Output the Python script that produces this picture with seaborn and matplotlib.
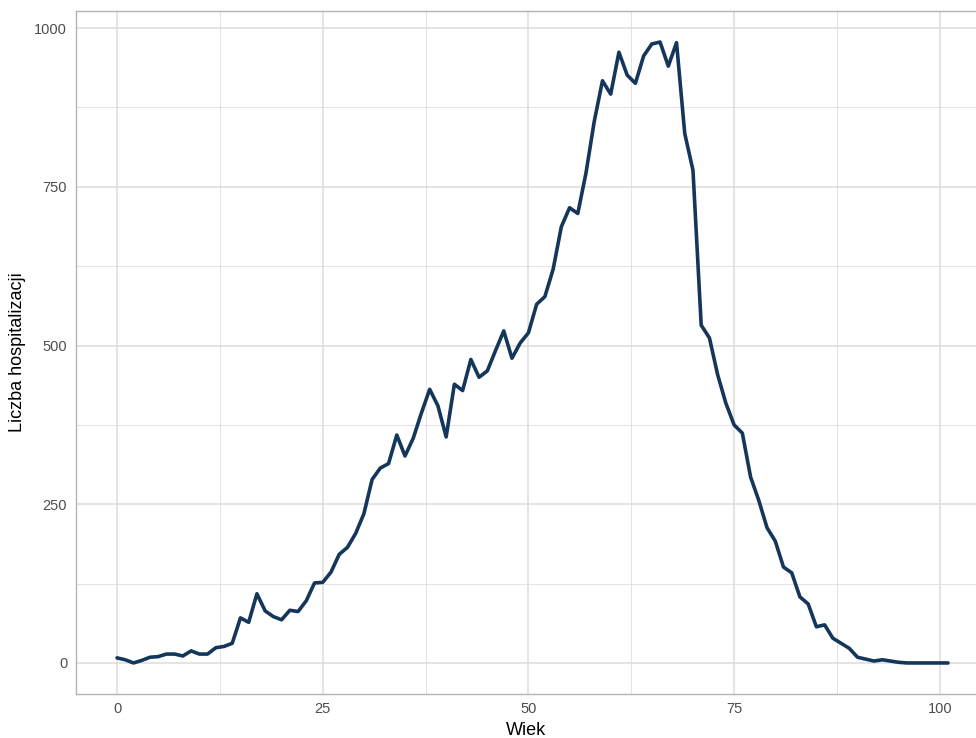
import numpy as np
import pandas as pd
import matplotlib
matplotlib.use('Agg')
import matplotlib.pyplot as plt
import seaborn as sns
from matplotlib.ticker import MultipleLocator

wiek = list(range(0, 102))
hospitalizacje = [
    8, 5, 0, 4, 9, 10, 14, 14, 11, 19,
    14, 14, 24, 26, 31, 71, 64, 109, 82, 73,
    68, 83, 81, 98, 126, 127, 143, 171, 182, 204,
    235, 289, 307, 314, 359, 326, 354, 394, 431, 405,
    356, 439, 429, 478, 450, 460, 492, 523, 480, 504,
    520, 565, 577, 620, 687, 717, 708, 772, 853, 917,
    896, 962, 926, 913, 956, 975, 978, 940, 977, 834,
    776, 532, 512, 454, 409, 375, 362, 293, 256, 213,
    192, 151, 142, 104, 93, 57, 60, 39, 31, 23,
    9, 6, 3, 5, 3, 1, 0, 0, 0, 0,
    0, 0,
]

df = pd.DataFrame({'Wiek': wiek, 'Liczba hospitalizacji': hospitalizacje})

sns.set_theme(style='white')
plt.rcParams['font.family'] = ['Liberation Sans', 'DejaVu Sans']

fig = plt.figure(figsize=(9.76, 7.38), dpi=100)
ax = fig.add_axes([75.5 / 976, 44 / 738, 1 - 75.5 / 976, 683 / 738])

sns.lineplot(x='Wiek', y='Liczba hospitalizacji', data=df, ax=ax,
             color='#15365b', linewidth=2.6)

ymax = max(hospitalizacje)
ax.set_xlim(-5.05, 104.4)
ax.set_ylim(-0.05 * ymax, 1.05 * ymax)

ax.xaxis.set_major_locator(MultipleLocator(25))
ax.xaxis.set_minor_locator(MultipleLocator(12.5))
ax.yaxis.set_major_locator(MultipleLocator(250))
ax.yaxis.set_minor_locator(MultipleLocator(125))
ax.grid(which='major', color='#dcdcdc', linewidth=1.1)
ax.grid(which='minor', color='#dedede', linewidth=0.6)
ax.set_axisbelow(True)

for s in ['left', 'bottom', 'top']:
    ax.spines[s].set_color('#b3b3b3')
    ax.spines[s].set_linewidth(1.0)
ax.spines['right'].set_visible(False)

ax.tick_params(which='both', length=0, labelsize=10.5, labelcolor='#4d4d4d', pad=6)
ax.set_xlabel('Wiek', fontsize=13, color='black', labelpad=4)
ax.set_ylabel('Liczba hospitalizacji', fontsize=13, color='black', labelpad=6)

fig.savefig('out.png', dpi=100)
